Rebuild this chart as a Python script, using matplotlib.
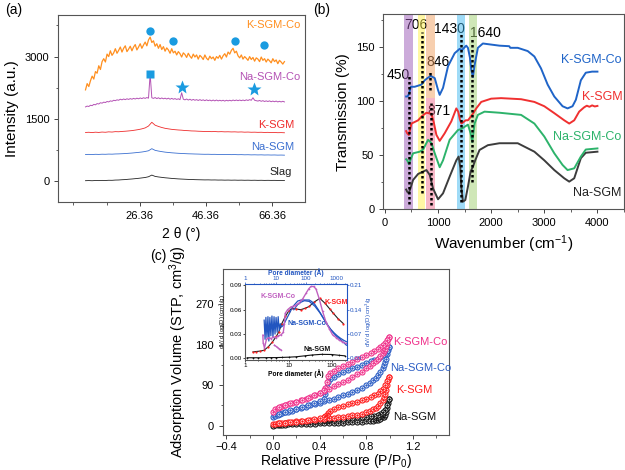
import numpy as np
import matplotlib
matplotlib.use("Agg")
import matplotlib.pyplot as plt
from matplotlib.ticker import MultipleLocator, FixedLocator, NullFormatter, LogLocator

plt.rcParams['font.family'] = ['Liberation Sans', 'DejaVu Sans']
plt.rcParams['mathtext.fontset'] = 'custom'
plt.rcParams['mathtext.rm'] = 'Liberation Sans'
plt.rcParams['mathtext.it'] = 'Liberation Sans:italic'
plt.rcParams['xtick.labelsize'] = 8
plt.rcParams['ytick.labelsize'] = 8
plt.rcParams['axes.linewidth'] = 0.8
plt.rcParams['axes.edgecolor'] = '#555555'

# ---------------- (a) XRD ----------------
xrd_k_co = [
    2200, 2350, 2280, 2420, 2530, 2460, 2640, 2600, 2780, 2690,   # 10-14.5
    2880, 2950, 2870, 3060, 3000, 3140, 3030, 3090, 3190, 3080,   # 15-19.5
    3150, 3230, 3110, 3200, 3260, 3120, 3180, 3250, 3140, 3230,   # 20-24.5
    3290, 3160, 3230, 3310, 3200, 3280, 3350, 3260, 3400, 3470,   # 25-29.5
    3340, 3380, 3250, 3310, 3200, 3290, 3170, 3240, 3130, 3210,   # 30-34.5
    3160, 3080, 3190, 3090, 3130, 3040, 3120, 3070, 2990, 3090,   # 35-39.5
    3050, 2980, 3080, 3010, 2960, 3060, 2990, 3040, 2940, 3030,   # 40-44.5
    2990, 2930, 3040, 2960, 2920, 3010, 2950, 2990, 2910, 3000,   # 45-49.5
    2960, 3030, 2940, 3020, 3070, 2990, 3110, 3060, 3150, 3200,   # 50-54.5
    3090, 3130, 3020, 2970, 3040, 2940, 3000, 2960, 2910, 3000,   # 55-59.5
    2930, 2980, 2890, 2970, 2940, 2880, 2990, 2910, 2950, 2870,   # 60-64.5
    2940, 2900, 2850, 2950, 2880, 2920, 2830, 2910, 2870, 2820,   # 65-69.5
    2880]
xrd_na_co = [
    1790, 1810, 1800, 1830, 1820, 1850, 1840, 1870, 1860, 1890,
    1880, 1905, 1895, 1920, 1910, 1935, 1925, 1950, 1940, 1960,
    1950, 1975, 1960, 1980, 1965, 1985, 1970, 1990, 1975, 1995,
    1980, 2000, 1985, 2005, 1990, 2010, 1995, 2015, 2000, 2580,
    2010, 1995, 2015, 1990, 2010, 1985, 2005, 1985, 2000, 1980,
    2000, 1975, 1995, 1975, 1990, 1970, 1985, 1965, 2130, 1975,
    1960, 1980, 1955, 1975, 1950, 1970, 1950, 1965, 1945, 1965,
    1945, 1960, 1940, 1960, 1940, 1955, 1935, 1955, 1935, 1955,
    1935, 1950, 1935, 1950, 1930, 1950, 1935, 1950, 1935, 1955,
    1940, 1955, 1940, 1955, 1940, 1955, 1940, 1960, 1945, 1965,
    1950, 2010, 1950, 1940, 1930, 1945, 1925, 1940, 1920, 1935,
    1920, 1935, 1915, 1930, 1915, 1930, 1910, 1925, 1910, 1925,
    1910]
xrd_k = [1175, 1180, 1172, 1182, 1176, 1185, 1180, 1190, 1185, 1195,
         1192, 1200, 1205, 1212, 1220, 1232, 1245, 1262, 1285, 1330,
         1420, 1350, 1320, 1295, 1275, 1262, 1250, 1242, 1235, 1230,
         1222, 1218, 1212, 1210, 1205, 1202, 1198, 1200, 1195, 1198,
         1192, 1195, 1190, 1192, 1188, 1190, 1185, 1188, 1182, 1185,
         1180, 1182, 1178, 1180, 1175, 1178, 1172, 1175, 1170, 1172, 1168]
xrd_na = [645, 648, 644, 650, 647, 652, 650, 655, 653, 658,
          660, 664, 668, 674, 680, 688, 696, 705, 718, 735,
          785, 745, 728, 714, 702, 694, 686, 680, 674, 670,
          666, 662, 660, 657, 655, 652, 650, 651, 648, 649,
          646, 647, 644, 646, 642, 644, 640, 642, 638, 640,
          636, 638, 635, 637, 633, 635, 632, 634, 630, 632, 629]
xrd_slag = [15, 18, 14, 20, 17, 22, 20, 25, 24, 30,
            32, 38, 42, 50, 56, 64, 72, 82, 92, 110,
            150, 118, 105, 95, 85, 78, 70, 64, 58, 54,
            50, 46, 44, 40, 38, 36, 34, 35, 32, 33,
            30, 31, 28, 30, 27, 29, 26, 28, 25, 27,
            24, 26, 23, 25, 22, 24, 22, 23, 21, 22, 20]
circ_x = [29.4, 36.4, 55.0, 63.9]
circ_y = [3613, 3387, 3387, 3290]
sq_x, sq_y = [29.4], [2580]
star_x = [39.2, 60.7]
star_y = [2258, 2218]

# ---------------- (b) FTIR ----------------
wn_kco = [400, 425, 450, 488, 560, 625, 688, 750, 800, 863, 900, 938, 1000, 1031, 1094,
          1188, 1313, 1406, 1450, 1531, 1563, 1600, 1625, 1656, 1688, 1750, 1844, 2000,
          2156, 2340, 2360, 2500, 2688, 2813, 2938, 3063, 3188, 3344, 3438, 3531, 3594,
          3688, 3781, 3900, 4000]
t_kco = [104, 104, 106, 113, 113, 114, 115, 119, 121, 123, 122, 121, 110, 105.5, 112,
         132, 144, 148, 147, 151, 149, 140, 129, 122, 133, 149, 153, 152,
         151, 150.5, 149, 149, 146, 141, 130, 115, 104, 95, 93, 95, 101,
         119, 126, 127, 127]
wn_k = [400, 420, 450, 500, 625, 700, 781, 875, 920, 969, 1031, 1125, 1250, 1344, 1380,
        1410, 1440, 1469, 1520, 1563, 1610, 1640, 1656, 1719, 1813, 2000, 2187, 2563,
        2813, 3000, 3188, 3375, 3469, 3563, 3656, 3750, 3800, 3850, 3900, 3950, 4000]
t_k = [72, 70, 68.5, 79, 82, 86, 89, 88, 80, 68.5, 63, 70, 81, 93, 90,
       83, 79, 80, 82, 82, 85, 87, 88, 93, 99, 102, 102.5, 101.5,
       99, 95, 88.6, 82, 79, 82, 90, 94, 95.5, 94.5, 95.8, 94.8, 95.3]
wn_naco = [400, 420, 450, 531, 656, 719, 813, 875, 938, 1031, 1094, 1219, 1375, 1438,
           1500, 1563, 1613, 1644, 1688, 1750, 1875, 2156, 2563, 2813, 3000, 3188, 3344,
           3438, 3563, 3688, 3781, 4000]
t_naco = [46, 45, 41.7, 51.5, 53, 55, 64, 61, 51.5, 38.6, 45, 64, 73, 74,
          76, 78, 70, 62, 79, 87, 90, 89, 87, 79, 67, 51.5, 40.7,
          36, 37.6, 48.5, 55, 56]
wn_na = [400, 420, 450, 531, 625, 719, 781, 844, 906, 1000, 1094, 1219, 1344, 1388, 1420,
         1438, 1469, 1513, 1563, 1613, 1656, 1700, 1781, 1938, 2156, 2500, 2813, 3000,
         3188, 3375, 3469, 3563, 3688, 3781, 4000]
t_na = [18, 16, 14.5, 26.9, 32.4, 34.6, 36, 31.5, 19, 9, 14.5, 30, 45, 48.5, 38,
        20, 6.8, 8.3, 20.7, 34.6, 39, 45, 54.6, 59, 60.8, 60.8, 53, 45,
        36, 28.4, 25.3, 28.4, 47, 52, 53]
band_lo = [356, 626, 782, 782, 1364, 1583]
band_hi = [520, 763, 938, 938, 1514, 1739]
band_bot = [0, 0, 103, 0, 0, 0]
band_top = [180, 180, 180, 103, 180, 180]
band_col = ['#9b59b6', '#fff04a', '#f0a060', '#f07090', '#40b8f0', '#a0d070']
peak_pos = [450, 706, 846, 871, 1430, 1640]
peak_lo = [5, 15, 110, 4, 6.5, 25]
peak_hi = [125, 164, 128, 98, 163, 158]
peak_lab = ['450', '706', '846', '871', '1430', '1640']
peak_lab_x = [250, 578, 1000, 1020, 1220, 1890]
peak_lab_y = [124, 170, 136, 91, 166, 163]

# ---------------- (c) N2 isotherms ----------------
p_ads = [0.005, 0.02, 0.04, 0.06, 0.08, 0.10, 0.13, 0.16, 0.20, 0.24, 0.28, 0.32, 0.36,
         0.40, 0.44, 0.48, 0.52, 0.56, 0.60, 0.64, 0.68, 0.72, 0.76, 0.80, 0.83, 0.86,
         0.88, 0.90, 0.92, 0.94, 0.95, 0.96, 0.97, 0.98, 0.99, 0.995]
p_des = [0.995, 0.98, 0.96, 0.94, 0.92, 0.90, 0.87, 0.84, 0.80, 0.76, 0.72, 0.68, 0.64,
         0.60, 0.56, 0.52, 0.49, 0.47, 0.46, 0.45, 0.44, 0.40, 0.35, 0.30, 0.25, 0.20,
         0.15, 0.10, 0.05]
v_kco_ads = [30, 36, 40, 42, 44, 46, 48, 50, 53, 56, 60, 64, 68, 72, 77, 82, 87, 92, 97,
             102, 108, 114, 120, 127, 133, 139, 144, 149, 155, 162, 166, 171, 177, 184, 192, 197]
v_kco_des = [197, 190, 184, 179, 175, 171, 166, 162, 157, 152, 147, 142, 137, 132, 127,
             122, 116, 110, 96, 84, 78, 73, 67, 62, 57, 53, 49, 46, 41]
v_naco_ads = [18, 22, 24, 26, 27, 29, 31, 33, 36, 39, 42, 45, 48, 51, 54, 57, 60, 64, 67,
              71, 75, 79, 84, 90, 95, 101, 106, 112, 119, 128, 134, 141, 149, 158, 168, 175]
v_naco_des = [175, 166, 160, 156, 152, 149, 146, 143, 139, 135, 131, 127, 123, 119, 114,
              109, 103, 97, 85, 70, 60, 55, 50, 45, 41, 37, 34, 30, 26]
v_k_ads = [3, 4, 5, 5.5, 6, 6.5, 7, 8, 9, 10, 11, 12, 13, 14, 15, 16, 17, 18, 19.5, 21,
           22.5, 24, 26, 29, 32, 36, 39, 43, 49, 57, 63, 70, 79, 90, 102, 108]
v_k_des = [108, 100, 90, 82, 76, 71, 67, 64, 60, 56, 53, 50, 47, 44, 41, 37, 33, 28, 24,
           22, 20, 17, 14, 12, 10, 8.5, 7, 6, 5]
v_na_ads = [0, 0.5, 1, 1.5, 2, 2, 2.5, 3, 3, 3.5, 4, 4, 4.5, 5, 5, 5.5, 6, 6, 6.5, 7, 7,
            7.5, 8, 9, 10, 11, 12, 13, 15, 18, 20, 24, 30, 38, 50, 58]
v_na_des = [58, 45, 35, 29, 26, 24, 22, 21, 20, 19, 18, 17, 16, 15.5, 15, 14, 13.5, 13,
            12.5, 12, 11.5, 11, 10, 9, 8, 7, 6, 5, 4]

# inset: pore size distributions
d_k = [1.5, 1.8, 2.2, 2.7, 3.4, 4.2, 5.2, 6.0, 7.0, 8.5, 10, 11.8, 15, 19, 24, 30, 38,
       53, 70, 90, 109, 140, 185]
psd_k = [0.008, 0.0085, 0.009, 0.010, 0.0143, 0.020, 0.027, 0.033, 0.043, 0.052, 0.058,
         0.0617, 0.061, 0.060, 0.0617, 0.064, 0.069, 0.074, 0.068, 0.061, 0.0556, 0.049, 0.043]
d_na = [1.1, 1.5, 2, 3, 4, 5, 7, 10, 15, 24, 35, 58, 100, 150, 200]
psd_na = [0.0008, 0.0008, 0.0008, 0.0009, 0.001, 0.001, 0.0012, 0.0015, 0.002, 0.0032,
          0.0042, 0.005, 0.0048, 0.0038, 0.0032]
d_kco = [3.8, 3.9, 4.3, 5, 6, 7.2, 8.5, 10.4, 12.5, 15.3, 18, 19.6, 21, 25, 32, 45, 61, 80,
         101, 125, 148, 180, 217, 277, 360, 464, 600, 766, 1000, 1260, 1600, 2100]
psd_kco = [0.067, 0.045, 0.03, 0.055, 0.06, 0.057, 0.062, 0.06, 0.065, 0.068, 0.075, 0.10,
           0.13, 0.14, 0.148, 0.152, 0.16, 0.172, 0.187, 0.2, 0.207, 0.207, 0.2, 0.172,
           0.135, 0.105, 0.085, 0.068, 0.06, 0.053, 0.048, 0.043]
d_kco_tail = [9.2, 11, 13, 15.3]
psd_kco_tail = [0.038, 0.033, 0.028, 0.024]
d_naco = [4.2, 4.5, 4.8, 5.2, 5.6, 6.0, 6.5, 7.0, 7.6, 8.2, 8.9, 9.6, 10.4, 11.3, 12.2,
          13.2, 14.3, 15.5, 18, 22, 27, 33, 40, 54, 70, 90, 130, 160, 200, 260, 330, 420,
          530, 680, 870, 1100, 1400, 1800, 2200]
psd_naco = [0.11, 0.055, 0.118, 0.06, 0.12, 0.05, 0.118, 0.065, 0.122, 0.06, 0.12, 0.07,
            0.118, 0.075, 0.12, 0.08, 0.10, 0.09, 0.095, 0.11, 0.125, 0.14, 0.152, 0.165,
            0.168, 0.168, 0.168, 0.163, 0.155, 0.14, 0.125, 0.11, 0.095, 0.083, 0.073,
            0.065, 0.058, 0.052, 0.048]
d_naco2 = [40, 54, 70, 90, 130, 200, 300, 450, 700, 1000, 1500, 2200]
psd_naco2 = [0.14, 0.155, 0.162, 0.166, 0.164, 0.15, 0.13, 0.105, 0.08, 0.065, 0.052, 0.038]


def style(ax):
    ax.tick_params(which='both', direction='out', top=False, right=False, colors='#444444',
                   labelcolor='black')
    ax.tick_params(which='major', length=3, width=0.7)
    ax.tick_params(which='minor', length=1.8, width=0.6)


fig = plt.figure(figsize=(6.25, 4.7), dpi=100)

# ---- panel a ----
ax = fig.add_axes([0.0933, 0.570, 0.3947, 0.398])
tt_fine = np.linspace(10, 70, len(xrd_k_co))
tt = np.linspace(10, 70, len(xrd_k))
ax.plot(tt, xrd_slag, color='#222222', lw=0.6)
ax.plot(tt, xrd_na, color='#3a6fd0', lw=0.6)
ax.plot(tt, xrd_k, color='#ee2b2b', lw=0.6)
ax.plot(tt_fine, xrd_na_co, color='#b452b4', lw=0.7)
ax.plot(tt_fine, xrd_k_co, color='#ff8f1f', lw=0.9)
ax.plot(circ_x, circ_y, 'o', color='#1a9be0', ms=6, mec='none')
ax.plot(sq_x, sq_y, 's', color='#1a9be0', ms=6, mec='none')
ax.plot(star_x, star_y, '*', color='#1a9be0', ms=10, mec='none')
ax.text(74.7, 3766, 'K-SGM-Co', color='#ff8f1f', ha='right', va='center', fontsize=8)
ax.text(74.7, 2516, 'Na-SGM-Co', color='#b452b4', ha='right', va='center', fontsize=8)
ax.text(73.0, 1355, 'K-SGM', color='#ee2b2b', ha='right', va='center', fontsize=8)
ax.text(73.0, 831, 'Na-SGM', color='#3a6fd0', ha='right', va='center', fontsize=8)
ax.text(72.2, 218, 'Slag', color='#222222', ha='right', va='center', fontsize=8)
ax.set_xlim(1.8, 76.2)
ax.set_ylim(-500, 4000)
ax.set_xticks([26.36, 46.36, 66.36])
ax.set_xticklabels(['26.36', '46.36', '66.36'])
ax.xaxis.set_minor_locator(FixedLocator([6.36, 16.36, 36.36, 56.36]))
ax.set_yticks([0, 1500, 3000])
ax.yaxis.set_minor_locator(MultipleLocator(750))
ax.set_xlabel('2 θ (°)', fontsize=10)
ax.set_ylabel('Intensity (a.u.)', fontsize=11)
style(ax)

# ---- panel b ----
ax = fig.add_axes([0.6133, 0.5553, 0.3851, 0.4143])
for lab, lx, ly in zip(peak_lab, peak_lab_x, peak_lab_y):
    ax.text(lx, ly, lab, ha='center', va='center', fontsize=10, zorder=1)
for lo, hi, b, t, c in zip(band_lo, band_hi, band_bot, band_top, band_col):
    ax.fill_between([lo, hi], b, t, color=c, alpha=0.5, lw=0, zorder=2)
ax.plot(wn_na, t_na, color='#3c3c3c', lw=1.4, zorder=3)
ax.plot(wn_naco, t_naco, color='#2db36b', lw=1.4, zorder=3)
ax.plot(wn_k, t_k, color='#f03030', lw=1.4, zorder=3)
ax.plot(wn_kco, t_kco, color='#1f64c8', lw=1.4, zorder=3)
ax.vlines(peak_pos, peak_lo, peak_hi, colors='black', linestyles=(0, (1, 1)), lw=1.8, zorder=4)
ax.text(3888, 138, 'K-SGM-Co', color='#1f64c8', ha='center', va='center', fontsize=9)
ax.text(4094, 104, 'K-SGM', color='#f03030', ha='center', va='center', fontsize=9)
ax.text(3813, 67, 'Na-SGM-Co', color='#2db36b', ha='center', va='center', fontsize=9)
ax.text(3988, 15, 'Na-SGM', color='#222222', ha='center', va='center', fontsize=9)
ax.set_xlim(-30, 4500)
ax.set_ylim(0, 180)
ax.set_xticks([0, 1000, 2000, 3000, 4000])
ax.xaxis.set_minor_locator(MultipleLocator(500))
ax.set_yticks([0, 50, 100, 150])
ax.yaxis.set_minor_locator(MultipleLocator(25))
ax.set_xlabel('Wavenumber (cm$^{-1}$)', fontsize=11)
ax.set_ylabel('Transmission (%)', fontsize=11)
style(ax)

# ---- panel c ----
ax = fig.add_axes([0.3563, 0.0745, 0.3621, 0.3532])
iso = [(p_ads, v_na_ads, p_des, v_na_des, '#111111'),
       (p_ads, v_k_ads, p_des, v_k_des, '#ff1a1a'),
       (p_ads, v_naco_ads, p_des, v_naco_des, '#2a5cc4'),
       (p_ads, v_kco_ads, p_des, v_kco_des, '#f0308a')]
for pa, va, pd, vd, c in iso:
    for px, vy in ((pa, va), (pd, vd)):
        ax.plot(px, vy, '-', color=c, lw=0.6)
        ax.plot(px, vy, 'o', color=c, ms=3.6, mfc='white', mew=0.8)
        ax.plot(px, vy, '.', color=c, ms=1.5)
ax.text(1.034, 185, 'K-SGM-Co', color='#f0308a', ha='left', va='center', fontsize=8)
ax.text(1.005, 127, 'Na-SGM-Co', color='#2a5cc4', ha='left', va='center', fontsize=8)
ax.text(1.057, 79, 'K-SGM', color='#ff1a1a', ha='left', va='center', fontsize=8)
ax.text(1.034, 20, 'Na-SGM', color='#111111', ha='left', va='center', fontsize=8)
ax.set_xlim(-0.43, 1.51)
ax.set_ylim(-21, 348)
ax.set_xticks([-0.4, 0.0, 0.4, 0.8, 1.2])
ax.xaxis.set_minor_locator(MultipleLocator(0.2))
ax.set_yticks([0, 90, 180, 270])
ax.yaxis.set_minor_locator(MultipleLocator(45))
ax.set_xlabel('Relative Pressure (P/P$_0$)', fontsize=10, labelpad=0)
ax.set_ylabel('Adsorption Volume (STP, cm$^3$/g)', fontsize=10.5)
style(ax)
ax.tick_params(axis='x', pad=2)

# ---- inset ----
rect = [0.3925, 0.234, 0.1622, 0.1617]
ai = fig.add_axes(rect)
ai.set_xscale('log')
ai.plot(d_na, psd_na, '-', color='#111111', lw=0.8, marker='+', ms=2, mew=0.5)
ai.plot(d_k, psd_k, '-', color='#222222', lw=0.8)
ai.plot(d_k, psd_k, 'o', color='#ff2020', ms=1.6, mec='none')
ai.set_xlim(1, 222)
ai.set_ylim(-0.002, 0.0917)
ai.set_xticks([1, 10, 100])
ai.set_xticklabels(['1', '10', '100'])
ai.xaxis.set_minor_locator(LogLocator(subs=np.arange(2, 10)))
ai.xaxis.set_minor_formatter(NullFormatter())
ai.set_yticks([0.0, 0.03, 0.06, 0.09])
ai.set_yticklabels(['0.00', '0.03', '0.06', '0.09'])
ai.tick_params(which='both', direction='out', labelsize=4.5, length=1.5, width=0.5, pad=1)
ai.tick_params(which='minor', length=0.8)
ai.spines['top'].set_visible(False)
ai.spines['right'].set_visible(False)
ai.set_xlabel('Pore diameter (Å)', fontsize=4.8, fontweight='bold', labelpad=0.5)
ai.set_ylabel('dV/ d log(D) (cm$^3$/g)', fontsize=4.3, labelpad=1)
ai.text(5.6, 0.076, 'K-SGM-Co', color='#c060c0', ha='center', va='center', fontsize=5, fontweight='bold')
ai.text(124, 0.0686, 'K-SGM', color='#ff2020', ha='center', va='center', fontsize=5, fontweight='bold')
ai.text(26.4, 0.043, 'Na-SGM-Co', color='#2255c0', ha='center', va='center', fontsize=5, fontweight='bold')
ai.text(45.6, 0.011, 'Na-SGM', color='#111111', ha='center', va='center', fontsize=5, fontweight='bold')

at = fig.add_axes(rect, frameon=True)
at.patch.set_visible(False)
at.set_xscale('log')
at.plot(d_naco, psd_naco, '-', color='#2255c0', lw=0.9)
at.plot(d_naco2, psd_naco2, '-', color='#2255c0', lw=0.9)
at.plot(d_kco, psd_kco, '-', color='#c060c0', lw=1.0, marker='o', ms=1.2, mec='none')
at.plot(d_kco_tail, psd_kco_tail, '-', color='#c060c0', lw=1.0, marker='o', ms=1.2, mec='none')
at.set_xlim(1, 2250)
at.set_ylim(-0.00467, 0.214)
at.xaxis.tick_top()
at.xaxis.set_label_position('top')
at.yaxis.tick_right()
at.yaxis.set_label_position('right')
at.set_xticks([1, 10, 100, 1000])
at.set_xticklabels(['1', '10', '100', '1000'])
at.xaxis.set_minor_locator(LogLocator(subs=np.arange(2, 10)))
at.xaxis.set_minor_formatter(NullFormatter())
at.set_yticks([0.0, 0.07, 0.14, 0.21])
at.set_yticklabels(['0.00', '0.07', '0.14', '0.21'])
at.tick_params(which='both', direction='out', labelsize=4.5, length=1.5, width=0.5, pad=1,
               colors='#2255c0')
at.tick_params(which='minor', length=0.8)
for s in ('left', 'bottom'):
    at.spines[s].set_visible(False)
for s in ('top', 'right'):
    at.spines[s].set_color('#2255c0')
at.set_xlabel('Pore diameter (Å)', fontsize=4.8, fontweight='bold', color='#2255c0', labelpad=0.5)
at.set_ylabel('dV/ d log(D) cm$^3$/g', fontsize=4.3, color='#2255c0', labelpad=1, rotation=90)

fig.text(0.008, 0.979, '(a)', fontsize=10, va='center')
fig.text(0.501, 0.979, '(b)', fontsize=10, va='center')
fig.text(0.240, 0.455, '(c)', fontsize=10, va='center')

fig.savefig('out.png', dpi=100)
